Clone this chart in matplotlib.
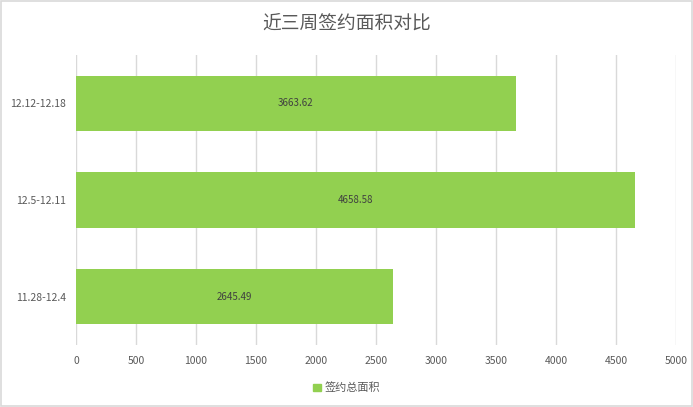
import matplotlib.pyplot as plt
from matplotlib.patches import Rectangle, Patch

plt.rcParams['font.family'] = ['Noto Sans CJK SC', 'DejaVu Sans']

# data
weeks = ['11.28-12.4', '12.5-12.11', '12.12-12.18']
areas = [2645.49, 4658.58, 3663.62]
series_name = '签约总面积'
x_ticks = [0, 500, 1000, 1500, 2000, 2500, 3000, 3500, 4000, 4500, 5000]

bar_color = '#92D050'
text_color = '#595959'

fig = plt.figure(figsize=(6.93, 4.07), dpi=100)
ax = fig.add_axes([0.1097, 0.1523, 0.8658, 0.7125])

bars = ax.barh(range(len(weeks)), areas, height=0.57, color=bar_color, zorder=3)
for b, v in zip(bars, areas):
    ax.text(b.get_width() / 2, b.get_y() + b.get_height() / 2, f'{v:.2f}',
            ha='center', va='center', fontsize=7, color='#404040', zorder=4)

ax.set_xlim(0, 5000)
ax.set_ylim(-0.5, 2.5)
ax.set_xticks(x_ticks)
ax.set_xticklabels([str(t) for t in x_ticks], fontsize=7.5, color=text_color)
ax.set_yticks(range(len(weeks)))
ax.set_yticklabels(weeks, fontsize=7.5, color=text_color)
ax.tick_params(length=0, pad=8)
ax.tick_params(axis='y', pad=7)
ax.grid(axis='x', color='#D9D9D9', linewidth=1, zorder=0)
for s in ax.spines.values():
    s.set_visible(False)

fig.text(0.5, 0.942, '近三周签约面积对比', ha='center', va='center',
         fontsize=13.5, color=text_color, fontweight='light')

leg = fig.legend(handles=[Patch(color=bar_color, label=series_name)],
                 loc='center', bbox_to_anchor=(0.5, 1 - 388 / 407),
                 frameon=False, fontsize=8, handlelength=0.7, handleheight=0.7,
                 handletextpad=0.3)
for t in leg.get_texts():
    t.set_color(text_color)

# chart border
fig.patches.append(Rectangle((0.001, 0.002), 0.997, 0.995, transform=fig.transFigure,
                             fill=False, edgecolor='#D9D9D9', linewidth=1.2))

fig.savefig('out.png', dpi=100)
